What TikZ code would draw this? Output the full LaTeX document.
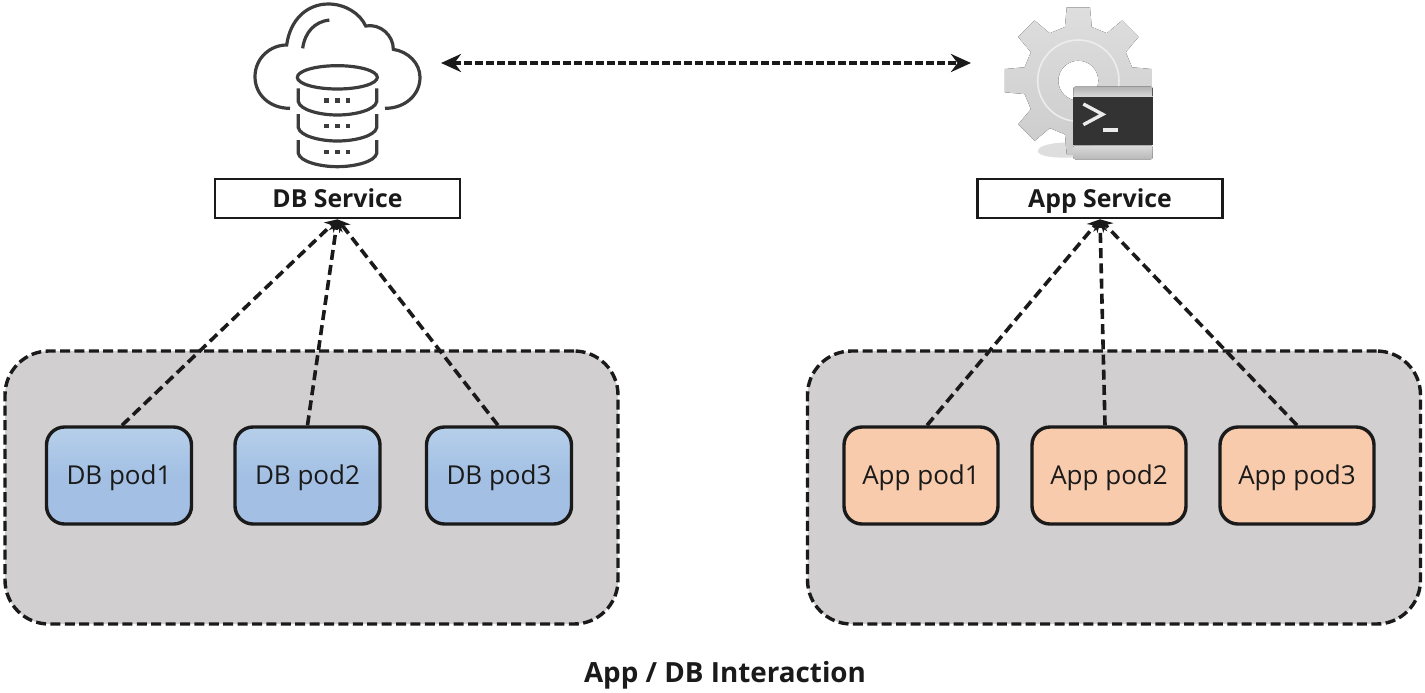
\documentclass[tikz,border=0pt]{standalone}
\usepackage{fontspec}
\setmainfont{Open Sans}
\usetikzlibrary{arrows.meta}
\definecolor{cont}{HTML}{D1CFD0}
\definecolor{bluepod}{HTML}{A3C0E4}
\definecolor{bluetop}{HTML}{B6CFEA}
\definecolor{orangepod}{HTML}{F7CBAC}
\definecolor{ink}{HTML}{1A1A1A}
\tikzset{
  px/.style={x=0.5pt,y=-0.5pt},
  zoomed/.style={x=0.16667pt,y=-0.16667pt},
  container/.style={draw=ink,line width=1.7pt,dash pattern=on 5pt off 2.2pt,fill=cont,rounded corners=22pt,minimum width=306.5pt,minimum height=136.5pt,inner sep=0pt},
  pod/.style={draw=ink,line width=1.7pt,rounded corners=9pt,minimum height=48.5pt,inner sep=0pt,text=ink,text height=11.5pt,text depth=2.6pt,font=\fontsize{13}{15}\selectfont},
  dbpod/.style={pod,top color=bluetop,bottom color=bluepod,middle color=bluepod,minimum width=72.5pt},
  apppod/.style={pod,fill=orangepod,minimum width=77pt},
  service/.style={draw=ink,line width=1.3pt,fill=white,minimum width=122.5pt,minimum height=19.5pt,inner sep=0pt,text=ink,text height=12pt,text depth=2.6pt,font=\fontsize{12.4}{14}\selectfont\bfseries},
  link/.style={draw=ink,line width=1.8pt,dash pattern=on 5pt off 2.6pt,-{Stealth[length=6pt,width=7pt]}},
  bothway/.style={draw=ink,line width=1.7pt,dash pattern=on 4pt off 1.5pt,{Stealth[length=10pt,width=9pt]}-{Stealth[length=10pt,width=9pt]}},
  iconline/.style={draw=ink!85,line width=1.6pt},
}
\begin{document}
\begin{tikzpicture}[px]
\useasboundingbox (0,0) rectangle (1425,692);
% containers
\node[container] (dbgroup) at (311.5,487.5) {};
\node[container] (appgroup) at (1114,487.5) {};
% pods
\node[dbpod] (dbpodA) at (119,475.5) {DB pod1};
\node[dbpod] (dbpodB) at (307.5,475.5) {DB pod2};
\node[dbpod] (dbpodC) at (499,475.5) {DB pod3};
\node[apppod] (apppodA) at (921,475.5) {App pod1};
\node[apppod] (apppodB) at (1109,475.5) {App pod2};
\node[apppod] (apppodC) at (1297,475.5) {App pod3};
% services
\node[service] (dbsvc) at (337.5,198.5) {DB Service};
\node[service] (appsvc) at (1100,198.5) {App Service};
% connectors
\draw[link] ([xshift=1.5pt]dbpodA.north) -- (dbsvc.south);
\draw[link] (dbpodB.north) -- (dbsvc.south);
\draw[link] ([xshift=-0.5pt]dbpodC.north) -- (dbsvc.south);
\draw[link] ([xshift=3pt]apppodA.north) -- (appsvc.south);
\draw[link] ([xshift=-2pt]apppodB.north) -- (appsvc.south);
\draw[link] (apppodC.north) -- (appsvc.south);
\coordinate (dblink) at (441,63);
\coordinate (applink) at (971,63);
\draw[bothway] (dblink) -- (applink);
% cloud + database icon
\begin{scope}[xshift=110pt,zoomed,iconline]
\draw (210,325) .. controls (150,325) and (105,285) .. (105,230)
  .. controls (105,175) and (150,135) .. (200,135)
  .. controls (210,60) and (260,12) .. (325,12)
  .. controls (375,12) and (420,40) .. (437,78)
  .. controls (480,70) and (520,105) .. (520,148)
  .. controls (565,155) and (600,190) .. (600,232)
  .. controls (600,285) and (555,325) .. (495,325);
\draw (248,145) .. controls (255,95) and (285,65) .. (328,60);
\draw (352,232) ellipse [x radius=120,y radius=35];
\foreach \t/\b in {265/305,342/383,420/460}{
  \draw (235,\t) -- (235,\b) .. controls (240,\b+25) and (300,\b+40) .. (352,\b+40)
     .. controls (405,\b+40) and (465,\b+25) .. (470,\b) -- (470,\t);
}
\foreach \yy in {301,378,456}{
  \foreach \xx in {320,352,384}{
    \fill[ink!85] (\xx-7,\yy-7) rectangle (\xx+7,\yy+7);
  }
}
\end{scope}
% gear + terminal icon
\begin{scope}[xshift=485pt,zoomed]
\fill[black!13] (310,428) .. controls (240,425) and (195,440) .. (205,458) .. controls (220,474) and (280,474) .. (310,472) -- cycle;
\begin{scope}[shift={(325,242)}]
\fill[even odd rule,top color=black!13,bottom color=black!20]
  (-14:166) -- (-9:223) -- (9:223) -- (14:166)
  \foreach \a in {45,90,...,315}{
    -- (\a-14:166) -- (\a-9:223) -- (\a+9:223) -- (\a+14:166)
  } -- cycle
  (0,0) circle [radius=60];
\draw[black!7,line width=0.8pt] (0,0) circle [radius=122];
\end{scope}
\fill[rounded corners=1pt,top color=black!30,bottom color=black!14] (310,260) rectangle (548,292);
\fill[black!80] (310,290) rectangle (548,436);
\fill[rounded corners=1pt,top color=black!14,bottom color=black!28] (310,436) rectangle (548,478);
\draw[white!92!black,line width=1.7pt] (340,312) -- (398,343) -- (340,374);
\draw[white!92!black,line width=1.7pt] (400,390) -- (445,390);
\end{scope}
% title
\node[text=ink,font=\fontsize{13.9}{16}\selectfont\bfseries] (title) at (725,675) {App / DB Interaction};
\end{tikzpicture}
\end{document}
